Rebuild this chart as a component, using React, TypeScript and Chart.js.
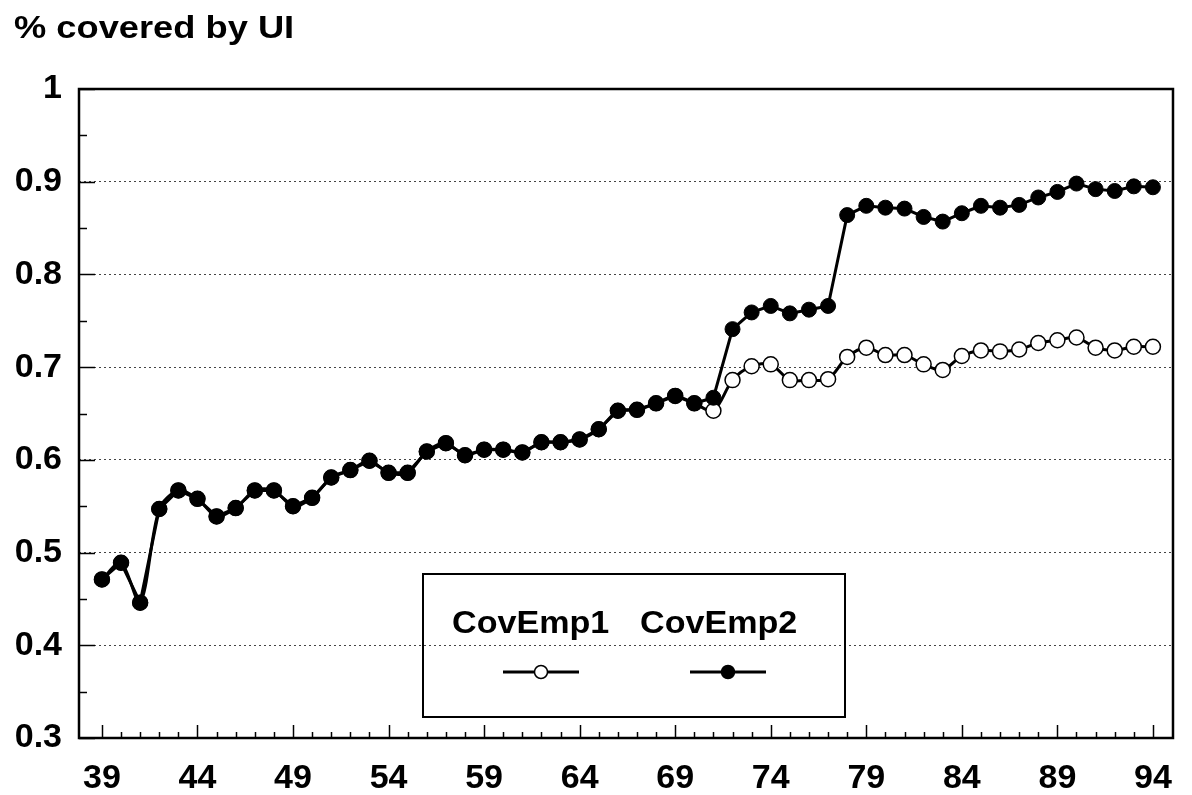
import React, { useEffect, useRef } from 'react';
import { Chart, registerables } from 'chart.js';

Chart.register(...registerables);

const title = '% covered by UI';
const seriesNames = ['CovEmp1', 'CovEmp2'];

const years = [
  39, 40, 41, 42, 43, 44, 45, 46, 47, 48, 49, 50, 51, 52, 53, 54, 55, 56, 57, 58,
  59, 60, 61, 62, 63, 64, 65, 66, 67, 68, 69, 70, 71, 72, 73, 74, 75, 76, 77, 78,
  79, 80, 81, 82, 83, 84, 85, 86, 87, 88, 89, 90, 91, 92, 93, 94,
];

const covEmp2 = [
  0.471, 0.489, 0.446, 0.547, 0.567, 0.558, 0.539, 0.548, 0.567, 0.567,
  0.55, 0.559, 0.581, 0.589, 0.599, 0.586, 0.586, 0.609, 0.618, 0.605,
  0.611, 0.611, 0.608, 0.619, 0.619, 0.622, 0.633, 0.653, 0.654, 0.661,
  0.669, 0.661, 0.667, 0.741, 0.759, 0.766, 0.758, 0.762, 0.766, 0.864,
  0.874, 0.872, 0.871, 0.862, 0.857, 0.866, 0.874, 0.872, 0.875, 0.883,
  0.889, 0.898, 0.892, 0.89, 0.895, 0.894,
];

const covEmp1 = [
  0.471, 0.489, 0.446, 0.547, 0.567, 0.558, 0.539, 0.548, 0.567, 0.567,
  0.55, 0.559, 0.581, 0.589, 0.599, 0.586, 0.586, 0.609, 0.618, 0.605,
  0.611, 0.611, 0.608, 0.619, 0.619, 0.622, 0.633, 0.653, 0.654, 0.661,
  0.669, 0.661, 0.653, 0.686, 0.701, 0.703, 0.686, 0.686, 0.687, 0.711,
  0.721, 0.713, 0.713, 0.703, 0.697, 0.712, 0.718, 0.717, 0.719, 0.726,
  0.729, 0.732, 0.721, 0.718, 0.722, 0.722,
];

const xTickLabels = [39, 44, 49, 54, 59, 64, 69, 74, 79, 84, 89, 94];
const yTickValues = [0.3, 0.4, 0.5, 0.6, 0.7, 0.8, 0.9, 1];

const FONT = '"Liberation Sans", Arial, sans-serif';

function stretchedText(ctx: any, text: string, x: number, y: number, sx: number) {
  ctx.save();
  ctx.translate(x, y);
  ctx.scale(sx, 1);
  ctx.fillText(text, 0, 0);
  ctx.restore();
}

const decorPlugin = {
  id: 'decor',
  afterDatasetsDraw(chart: any) {
    const { ctx, chartArea } = chart;
    const xs = chart.scales.x;
    const ys = chart.scales.y;
    ctx.save();
    ctx.strokeStyle = '#000';
    ctx.lineWidth = 1.5;
    years.forEach((yr) => {
      const px = Math.round(xs.getPixelForValue(yr)) + 0.5;
      const len = xTickLabels.includes(yr) ? 13 : 6;
      ctx.beginPath();
      ctx.moveTo(px, chartArea.bottom);
      ctx.lineTo(px, chartArea.bottom - len);
      ctx.stroke();
    });
    yTickValues.forEach((v, i) => {
      const py = Math.round(ys.getPixelForValue(v)) + 0.5;
      ctx.beginPath();
      ctx.moveTo(chartArea.left, py);
      ctx.lineTo(chartArea.left + 16, py);
      ctx.stroke();
      if (i < yTickValues.length - 1) {
        const mid = (v + yTickValues[i + 1]) / 2;
        const pm = Math.round(ys.getPixelForValue(mid)) + 0.5;
        ctx.beginPath();
        ctx.moveTo(chartArea.left, pm);
        ctx.lineTo(chartArea.left + 8, pm);
        ctx.stroke();
      }
    });
    ctx.lineWidth = 2.5;
    ctx.strokeRect(chartArea.left, chartArea.top, chartArea.right - chartArea.left, chartArea.bottom - chartArea.top);
    ctx.restore();
  },
  afterDraw(chart: any) {
    const { ctx } = chart;
    ctx.save();
    ctx.fillStyle = '#000';
    ctx.font = `bold 31px ${FONT}`;
    ctx.textAlign = 'left';
    ctx.textBaseline = 'alphabetic';
    stretchedText(ctx, title, 14, 38, 1.17);

    const bx = 423, by = 574, bw = 422, bh = 143;
    ctx.strokeStyle = '#000';
    ctx.lineWidth = 2;
    ctx.strokeRect(bx, by, bw, bh);
    ctx.font = `bold 31px ${FONT}`;
    ctx.textBaseline = 'alphabetic';
    const textX = [452, 640];
    const symX = [541, 728];
    chart.data.datasets.forEach((ds: any, i: number) => {
      ctx.fillStyle = '#000';
      stretchedText(ctx, seriesNames[i], textX[i], 633, 1.1);
      ctx.lineWidth = 3;
      ctx.beginPath();
      ctx.moveTo(symX[i] - 38, 672);
      ctx.lineTo(symX[i] + 38, 672);
      ctx.stroke();
      ctx.beginPath();
      ctx.arc(symX[i], 672, 6.5, 0, Math.PI * 2);
      ctx.fillStyle = ds.pointBackgroundColor;
      ctx.fill();
      ctx.lineWidth = 1.5;
      ctx.stroke();
    });
    ctx.restore();
  },
};

export default function App() {
  const canvasRef = useRef<HTMLCanvasElement | null>(null);

  useEffect(() => {
    const canvas = canvasRef.current;
    if (!canvas) return;
    const chart = new Chart(canvas, {
      type: 'line',
      data: {
        datasets: [
          {
            label: seriesNames[0],
            data: years.map((x, i) => ({ x, y: covEmp1[i] })),
            borderColor: '#000',
            borderWidth: 3,
            tension: 0.3,
            pointRadius: 7.5,
            pointBackgroundColor: '#fff',
            pointBorderColor: '#000',
            pointBorderWidth: 1.5,
            order: 2,
          },
          {
            label: seriesNames[1],
            data: years.map((x, i) => ({ x, y: covEmp2[i] })),
            borderColor: '#000',
            borderWidth: 3,
            tension: 0,
            pointRadius: 7.5,
            pointBackgroundColor: '#000',
            pointBorderColor: '#000',
            pointBorderWidth: 1,
            order: 1,
          },
        ],
      },
      options: {
        responsive: false,
        animation: false,
        layout: { padding: { top: 89, right: 5, left: 0, bottom: 0 } },
        plugins: {
          legend: { display: false },
          tooltip: { enabled: false },
          title: { display: false },
        },
        scales: {
          x: {
            type: 'linear',
            min: 37.8,
            max: 95.05,
            grid: { display: false, drawTicks: false },
            border: { display: false },
            afterBuildTicks: (scale: any) => {
              scale.ticks = xTickLabels.map((v) => ({ value: v }));
            },
            afterFit: (scale: any) => {
              scale.height = 57;
            },
            ticks: {
              autoSkip: false,
              maxRotation: 0,
              padding: 20,
              color: '#000',
              font: { family: FONT, size: 34, weight: 'bold' },
              callback: (v: any) => String(v),
            },
          },
          y: {
            min: 0.3,
            max: 1,
            grid: {
              drawTicks: false,
              color: (ctx: any) => {
                const v = ctx.tick ? ctx.tick.value : 0;
                return v <= 0.3001 || v >= 0.9999 ? 'rgba(0,0,0,0)' : '#444';
              },
              lineWidth: 1,
            },
            border: { display: false, dash: [2, 3] },
            afterBuildTicks: (scale: any) => {
              scale.ticks = yTickValues.map((v) => ({ value: v }));
            },
            afterFit: (scale: any) => {
              scale.width = 79;
            },
            ticks: {
              padding: 17,
              color: '#000',
              font: { family: FONT, size: 34, weight: 'bold' },
              callback: (v: any) => String(Number(Number(v).toFixed(1))),
            },
          },
        },
      },
      plugins: [decorPlugin],
    } as any);
    return () => chart.destroy();
  }, []);

  return (
    <div style={{ position: 'absolute', left: 0, top: 0, width: 1192, height: 795, background: '#fff' }}>
      <canvas ref={canvasRef} width={1192} height={795} />
    </div>
  );
}
